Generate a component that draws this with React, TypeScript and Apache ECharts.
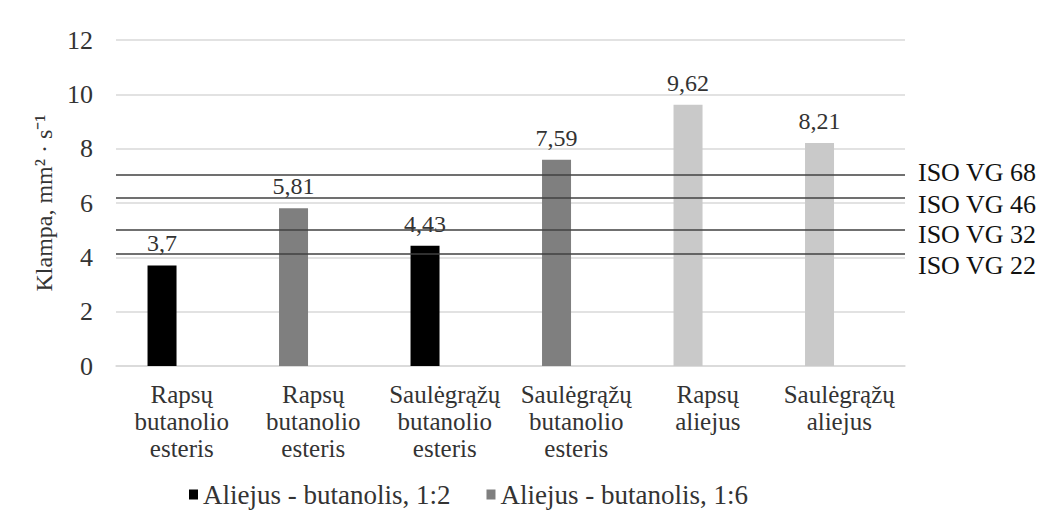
import React, { useEffect, useRef } from "react";
import * as echarts from "echarts";

const categories = [
  "Rapsų\nbutanolio\nesteris",
  "Rapsų\nbutanolio\nesteris",
  "Saulėgrąžų\nbutanolio\nesteris",
  "Saulėgrąžų\nbutanolio\nesteris",
  "Rapsų\naliejus",
  "Saulėgrąžų\naliejus",
];
const ratio12 = [3.7, null, 4.43, null, null, null];
const ratio16 = [null, 5.81, null, 7.59, null, null];
const pureOil = [null, null, null, null, 9.62, 8.21];
const isoNames = ["ISO VG 68", "ISO VG 46", "ISO VG 32", "ISO VG 22"];
const isoValues = [7.05, 6.2, 5.0, 4.15];
const isoLabelShift = [-2, 7, 4, 12];
const yTicks = { min: 0, max: 12, interval: 2 };

const FONT = "Liberation Serif";
const TXT = "#333333";

export default function App() {
  const ref = useRef<HTMLDivElement>(null);
  useEffect(() => {
    document.body.style.margin = "0";
    const chart = echarts.init(ref.current!, null, { renderer: "svg" });
    const fmt = (p: any) =>
      p.value == null ? "" : String(p.value).replace(".", ",");
    const barLabel = {
      show: true,
      position: "top",
      distance: 10,
      fontFamily: FONT,
      fontSize: 24,
      color: TXT,
      formatter: fmt,
    };
    chart.setOption({
      animation: false,
      backgroundColor: "#ffffff",
      textStyle: { fontFamily: FONT },
      grid: { left: 116, right: 136, top: 40, bottom: 146 },
      legend: {
        data: ["Aliejus - butanolis, 1:2", "Aliejus - butanolis, 1:6"],
        left: 184,
        top: 476,
        icon: "rect",
        itemWidth: 9,
        itemHeight: 10,
        itemGap: 36,
        textStyle: { fontFamily: FONT, fontSize: 27, color: TXT },
      },
      xAxis: {
        type: "category",
        data: categories,
        axisLine: { lineStyle: { color: "#d9d9d9", width: 1.5 } },
        axisTick: { show: false },
        axisLabel: {
          interval: 0,
          margin: 15,
          fontFamily: FONT,
          fontSize: 25,
          lineHeight: 27,
          color: TXT,
        },
      },
      yAxis: {
        type: "value",
        min: yTicks.min,
        max: yTicks.max,
        interval: yTicks.interval,
        name: "Klampa, mm² · s⁻¹",
        nameLocation: "middle",
        nameGap: 58,
        nameTextStyle: { fontFamily: FONT, fontSize: 24, color: TXT },
        axisLine: { show: false },
        axisTick: { show: false },
        axisLabel: { margin: 23, fontFamily: FONT, fontSize: 26, color: TXT },
        splitLine: { lineStyle: { color: "#d9d9d9", width: 1.5 } },
      },
      series: [
        {
          name: "Aliejus - butanolis, 1:2",
          type: "bar",
          stack: "a",
          data: ratio12,
          barWidth: 29,
          barGap: "36%",
          itemStyle: { color: "#000000" },
          label: barLabel,
        },
        {
          name: "Aliejus - butanolis, 1:6",
          type: "bar",
          stack: "a",
          data: ratio16,
          barWidth: 29,
          barGap: "36%",
          itemStyle: { color: "#7f7f7f" },
          label: barLabel,
        },
        {
          name: "Aliejus",
          type: "bar",
          stack: "a",
          data: pureOil,
          barWidth: 29,
          barGap: "36%",
          itemStyle: { color: "#c9c9c9" },
          label: barLabel,
        },
        {
          name: "spacer",
          type: "bar",
          data: categories.map(() => null),
          barWidth: 29,
          barGap: "36%",
          markLine: {
            silent: true,
            symbol: "none",
            lineStyle: { color: "#404040", width: 1.5, type: "solid" },
            label: { show: false },
            data: isoValues.map((v, i) => ({ yAxis: v, name: isoNames[i] })),
          },
        },
      ],
    });
    const rightX = chart.convertToPixel({ xAxisIndex: 0 }, categories.length - 1) + 131.5 / 2;
    chart.setOption({
      graphic: isoValues.map((v, i) => ({
        type: "text",
        x: rightX + 13,
        y: chart.convertToPixel({ yAxisIndex: 0 }, v) + isoLabelShift[i],
        silent: true,
        style: {
          text: isoNames[i],
          fontFamily: FONT,
          fontSize: 26,
          fill: "#111111",
          textAlign: "left",
          textVerticalAlign: "middle",
        },
      })),
    });
    return () => chart.dispose();
  }, []);
  return <div ref={ref} style={{ width: 1041, height: 512 }} />;
}
